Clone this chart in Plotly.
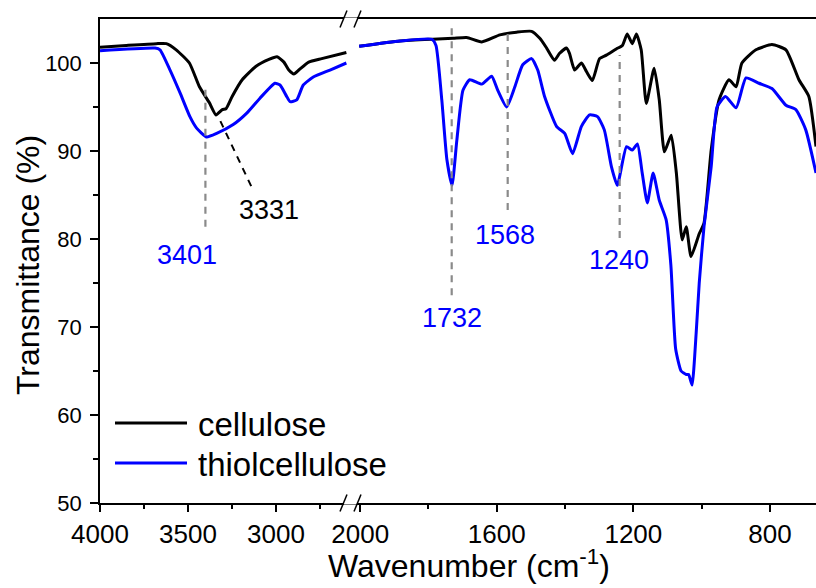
import plotly.graph_objects as go

# ---------------- data ----------------
# left segment (4000 - ~2570 cm-1)
wn_left_cell = [4000, 3850, 3680, 3623, 3567, 3492, 3435, 3379, 3341, 3305, 3284, 3249, 3192,
                3115, 3040, 2994, 2955, 2927, 2898, 2870, 2814, 2740, 2600]
t_left_cell = [101.8, 102.0, 102.2, 102.2, 101.5, 100.0, 97.3, 95.5, 94.1, 94.7, 94.8, 96.2, 98.1,
               99.6, 100.4, 100.7, 100.1, 99.2, 98.75, 99.2, 100.1, 100.5, 101.2]

wn_left_thiol = [4000, 3687, 3659, 3602, 3545, 3489, 3451, 3394, 3337, 3243, 3166, 3091, 3006,
                 2977, 2939, 2920, 2882, 2845, 2788, 2693, 2600]
t_left_thiol = [101.4, 101.7, 101.5, 99.2, 96.6, 93.9, 92.6, 91.6, 92.0, 93.0, 94.3, 96.0, 97.7,
                97.5, 96.2, 95.6, 95.8, 97.5, 98.4, 99.2, 100.0]

# right segment (2000 - ~665 cm-1)
wn_right_cell = [2003, 1883, 1787, 1728, 1688, 1644, 1591, 1542, 1498, 1474, 1454, 1431, 1416,
                 1396, 1387, 1372, 1352, 1337, 1320, 1299, 1279, 1250, 1232, 1218, 1203, 1191,
                 1177, 1162, 1139, 1124, 1109, 1089, 1074, 1057, 1045, 1031, 1007, 993, 972,
                 949, 920, 899, 882, 841, 794, 753, 715, 686, 665]
t_right_cell = [101.9, 102.5, 102.7, 102.8, 102.9, 102.4, 103.2, 103.5, 103.6, 102.8, 101.7, 100.3, 101.1,
                101.7, 101.1, 99.2, 100.0, 99.0, 98.0, 100.5, 100.9, 101.6, 102.0, 103.3, 102.2, 103.3,
                101.5, 95.4, 99.4, 95.8, 89.9, 91.8, 87.5, 79.9, 81.4, 78.0, 80.6, 81.8, 90.1,
                95.8, 98.1, 97.3, 100.0, 101.5, 102.1, 101.5, 98.1, 96.2, 90.5]

wn_right_thiol = [2003, 1883, 1790, 1778, 1761, 1746, 1731, 1717, 1699, 1679, 1644, 1615, 1597,
                  1571, 1547, 1524, 1498, 1480, 1460, 1425, 1401, 1378, 1352, 1328, 1305, 1285,
                  1264, 1247, 1220, 1203, 1188, 1174, 1159, 1142, 1124, 1104, 1090, 1076,
                  1060, 1045, 1038, 1028, 1016, 1007, 993, 972, 955, 930, 899, 870, 832, 794,
                  753, 724, 695, 665]
t_right_thiol = [101.9, 102.5, 102.7, 102.0, 95.8, 89.0, 86.1, 91.2, 96.9, 98.1, 97.6, 98.5, 96.9,
                 95.0, 97.3, 99.8, 100.5, 99.2, 96.2, 92.8, 92.0, 89.7, 92.8, 94.1, 93.9, 92.4,
                 88.2, 86.1, 90.5, 90.1, 90.8, 87.5, 84.1, 87.5, 84.4, 82.2, 77.0, 67.5,
                 65.0, 64.6, 64.6, 63.4, 69.3, 75.0, 81.4, 88.2, 95.0, 96.2, 94.9, 98.3, 97.7, 97.1,
                 95.2, 94.7, 92.4, 87.5]

series_names = ["cellulose", "thiolcellulose"]
series_colors = ["#000000", "#0000FF"]

left_ticks = [4000, 3500, 3000]
left_minor = [3750, 3250, 2750]
right_ticks = [2000, 1600, 1200, 800]
right_minor = [1800, 1400, 1000]

# peak markers: (label, wavenumber, y_bottom, y_top, axis)
peaks = [("3401", 3401, 81.4, 97.4, "x"),
         ("1732", 1732, 73.6, 104.0, "x2"),
         ("1568", 1568, 83.3, 103.8, "x2"),
         ("1240", 1240, 80.1, 100.9, "x2")]

# ---------------- layout geometry ----------------
W, H = 816, 588
ML, MR, MT, MB = 100, 0, 19, 85
PW = W - ML - MR
PH = H - MT - MB
SPLIT_PX = 352
split = (SPLIT_PX - ML) / PW


def px(xp):
    return (xp - ML) / PW


def py(yp):
    return (H - MB - yp) / PH


FONT = "Arial, Liberation Sans, sans-serif"

fig = go.Figure()

for xs, ys, ax, i in [(wn_left_cell, t_left_cell, "x", 0), (wn_left_thiol, t_left_thiol, "x", 1),
                      (wn_right_cell, t_right_cell, "x2", 0), (wn_right_thiol, t_right_thiol, "x2", 1)]:
    fig.add_trace(go.Scatter(x=xs, y=ys, xaxis=ax, yaxis="y", mode="lines",
                             line=dict(color=series_colors[i], width=3, shape="spline", smoothing=0.5),
                             name=series_names[i], showlegend=False))

shapes = []
annotations = []

# peak dashed lines
for lab, wn, y0, y1, ax in peaks:
    shapes.append(dict(type="line", xref=ax, yref="y", x0=wn, x1=wn, y0=y0, y1=y1,
                       line=dict(color="#8a8a8a", width=2.2, dash="7px,6px")))

# black dashed leader to 3331
shapes.append(dict(type="line", xref="x", yref="y", x0=3316, x1=3136, y0=93.4, y1=85.8,
                   line=dict(color="#000000", width=2, dash="7px,6px")))

# peak labels
LBL = 27
annotations += [
    dict(text="3401", x=3503, y=78.2, xref="x", yref="y", showarrow=False,
         font=dict(size=LBL, color="#0000FF", family=FONT)),
    dict(text="3331", x=3040, y=83.3, xref="x", yref="y", showarrow=False,
         font=dict(size=LBL, color="#000000", family=FONT)),
    dict(text="1732", x=1730, y=71.0, xref="x2", yref="y", showarrow=False,
         font=dict(size=LBL, color="#0000FF", family=FONT)),
    dict(text="1568", x=1576, y=80.5, xref="x2", yref="y", showarrow=False,
         font=dict(size=LBL, color="#0000FF", family=FONT)),
    dict(text="1240", x=1243, y=77.6, xref="x2", yref="y", showarrow=False,
         font=dict(size=LBL, color="#0000FF", family=FONT)),
]

# axis break marks (top and bottom)
for yline in (MT, H - MB):
    shapes.append(dict(type="rect", xref="paper", yref="paper", x0=px(344), x1=px(357),
                       y0=py(yline + 1.5), y1=py(yline - 1.5), fillcolor="white",
                       line=dict(width=0), layer="above"))
    for xs in (340, 354):
        shapes.append(dict(type="line", xref="paper", yref="paper", x0=px(xs), x1=px(xs + 7),
                           y0=py(yline + 8.5), y1=py(yline - 8.5),
                           line=dict(color="black", width=1.5), layer="above"))

# legend (drawn manually)
for i, (nm, col) in enumerate(zip(series_names, series_colors)):
    yl = 423 + 40 * i
    shapes.append(dict(type="line", xref="paper", yref="paper", x0=px(115), x1=px(187),
                       y0=py(yl), y1=py(yl), line=dict(color=col, width=3)))
    annotations.append(dict(text=nm, x=px(196), y=py(yl + 1), xref="paper", yref="paper",
                            xanchor="left", yanchor="middle", showarrow=False,
                            font=dict(size=33, color="black", family=FONT)))

# axis titles
annotations.append(dict(text="Wavenumber (cm<sup>-1</sup>)", x=px(469), y=py(586),
                        xref="paper", yref="paper", xanchor="center", yanchor="bottom",
                        showarrow=False, font=dict(size=32, color="black", family=FONT)))
annotations.append(dict(text="Transmittance (%)", x=px(28), y=py(265), textangle=-90,
                        xref="paper", yref="paper", xanchor="center", yanchor="middle",
                        showarrow=False, font=dict(size=32, color="black", family=FONT)))

axis_common = dict(showline=True, linecolor="black", linewidth=1.5, mirror=True,
                   ticks="outside", ticklen=7, tickwidth=1.5, tickcolor="black",
                   showgrid=False, zeroline=False,
                   tickfont=dict(size=26, color="black", family=FONT))

fig.update_layout(
    width=W, height=H,
    margin=dict(l=ML, r=MR, t=MT, b=MB),
    paper_bgcolor="white", plot_bgcolor="white",
    showlegend=False,
    xaxis=dict(domain=[0, split], range=[4000, 2568], tickmode="array", tickvals=left_ticks,
               minor=dict(tickmode="array", tickvals=left_minor, ticks="outside", ticklen=4,
                          tickwidth=1.5, tickcolor="black", showgrid=False),
               anchor="y", **axis_common),
    xaxis2=dict(domain=[split, 1], range=[2024, 665], tickmode="array", tickvals=right_ticks,
                minor=dict(tickmode="array", tickvals=right_minor, ticks="outside", ticklen=4,
                           tickwidth=1.5, tickcolor="black", showgrid=False),
                anchor="y", **axis_common),
    yaxis=dict(range=[50, 105], tickmode="array", tickvals=[50, 60, 70, 80, 90, 100],
               showline=True, linecolor="black", linewidth=1.5, mirror=False,
               ticks="outside", ticklen=8, tickwidth=1.5, tickcolor="black",
               minor=dict(tickmode="array", tickvals=[55, 65, 75, 85, 95], ticks="outside",
                          ticklen=5, tickwidth=1.5, tickcolor="black", showgrid=False),
               showgrid=False, zeroline=False, ticklabelstandoff=4,
               tickfont=dict(size=22, color="black", family=FONT)),
    shapes=shapes,
    annotations=annotations,
)

fig.write_html("out.html")
